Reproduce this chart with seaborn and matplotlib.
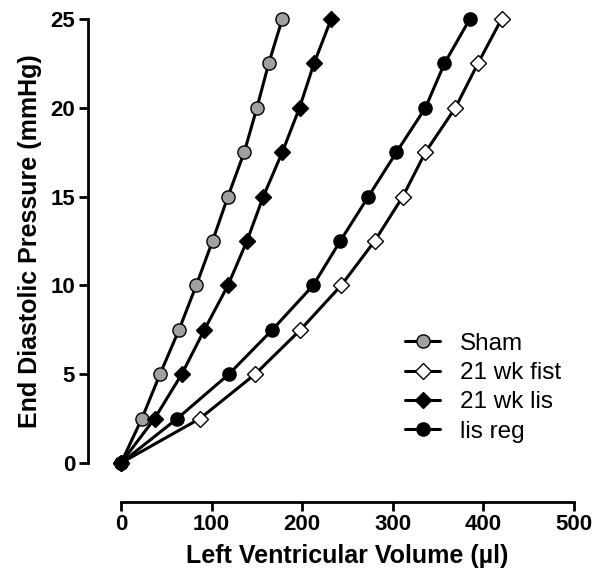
import matplotlib
matplotlib.use('Agg')
import matplotlib.pyplot as plt
import seaborn as sns
import pandas as pd

# pressure levels (mmHg)
pressure = [0, 2.5, 5, 7.5, 10, 12.5, 15, 17.5, 20, 22.5, 25]

# left ventricular volume (ul) for each group
sham = [0, 23, 43, 64, 83, 101, 118, 136, 150, 163, 178]
fist = [0, 87, 148, 198, 243, 280, 311, 336, 369, 394, 420]
lis = [0, 37, 67, 92, 118, 139, 157, 178, 197, 213, 232]
lis_reg = [0, 62, 119, 167, 212, 242, 273, 304, 336, 357, 385]

groups = ['Sham', '21 wk fist', '21 wk lis', 'lis reg']
volumes = [sham, fist, lis, lis_reg]

rows = []
for g, vals in zip(groups, volumes):
    for v, p in zip(vals, pressure):
        rows.append({'group': g, 'volume': v, 'pressure': p})
df = pd.DataFrame(rows)

sns.set_style('ticks')
plt.rcParams['font.family'] = ['Liberation Sans', 'DejaVu Sans']
plt.rcParams['text.color'] = 'black'
plt.rcParams['axes.labelcolor'] = 'black'

fig = plt.figure(figsize=(6, 5.83), dpi=100)
ax = fig.add_axes([0.2017, 0.2058, 0.755, 0.7616])

styles = {
    'Sham': dict(marker='o', markersize=9.5, markerfacecolor='#a0a0a0'),
    '21 wk fist': dict(marker='D', markersize=8.5, markerfacecolor='white'),
    '21 wk lis': dict(marker='D', markersize=8.5, markerfacecolor='black'),
    'lis reg': dict(marker='o', markersize=9.5, markerfacecolor='black'),
}

for g in groups:
    d = df[df['group'] == g]
    sns.lineplot(data=d, x='volume', y='pressure', ax=ax, sort=False,
                 color='black', linewidth=2.2, markeredgecolor='black',
                 markeredgewidth=1.0, label=g, clip_on=False, **styles[g])

ax.set_xlim(0, 500)
ax.set_ylim(0, 25)
ax.set_xticks([0, 100, 200, 300, 400, 500])
ax.set_yticks([0, 5, 10, 15, 20, 25])

for s in ['top', 'right']:
    ax.spines[s].set_visible(False)
ax.spines['left'].set_position(('outward', 24))
ax.spines['bottom'].set_position(('outward', 28))
ax.spines['left'].set_linewidth(2)
ax.spines['bottom'].set_linewidth(2)
ax.spines['left'].set_color('black')
ax.spines['bottom'].set_color('black')
ax.tick_params(width=2, length=6.5, pad=2.5, labelsize=16, colors='black')
for lab in ax.get_xticklabels() + ax.get_yticklabels():
    lab.set_fontweight('bold')

ax.set_xlabel('Left Ventricular Volume (µl)', fontsize=18, fontweight='bold', labelpad=6)
ax.set_ylabel('End Diastolic Pressure (mmHg)', fontsize=18, fontweight='bold', labelpad=6)

leg = ax.legend(loc='upper left', bbox_to_anchor=(0.655, 0.45),
                bbox_transform=fig.transFigure, frameon=False,
                fontsize=17.5, handlelength=1.45, handletextpad=0.8,
                labelspacing=0.3, borderpad=0)

fig.savefig('out.png', dpi=100)
